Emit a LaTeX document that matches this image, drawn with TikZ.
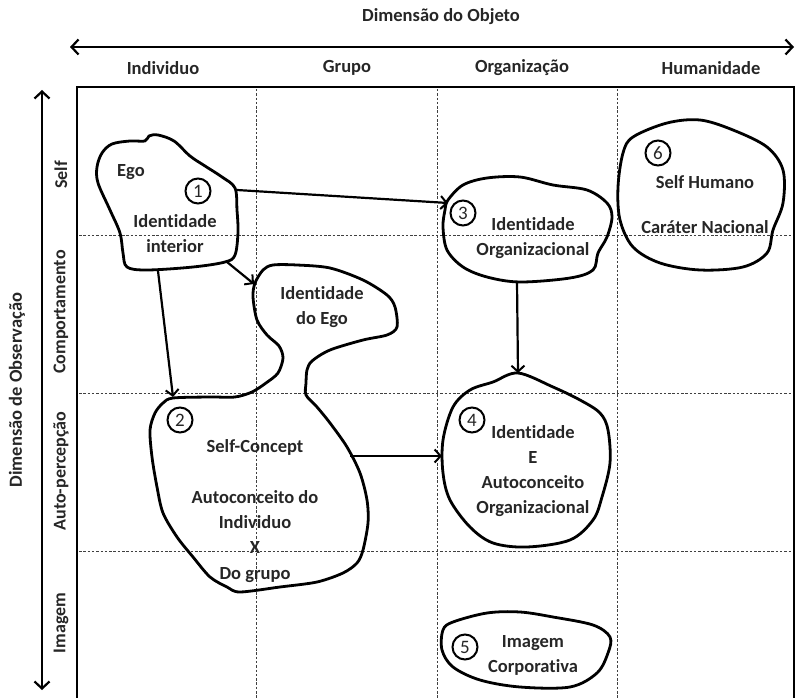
\documentclass[tikz,border=0pt]{standalone}
\usepackage{fontspec}
\setmainfont{Carlito}[Ligatures=NoCommon]
\usetikzlibrary{arrows.meta}
\begin{document}
\begin{tikzpicture}[x=1pt,y=-1pt,
  lbl/.style={font=\fontsize{18.5}{25}\selectfont\bfseries, text=black!85, align=center, inner sep=0pt},
  rowlbl/.style={font=\fontsize{18}{22}\selectfont\bfseries, text=black!85, inner sep=0pt, rotate=90},
  blob/.style={line width=2.8pt, line join=round},
  num/.style={draw, circle, line width=2pt, minimum size=25pt, inner sep=0pt, font=\fontsize{19}{20}\selectfont, text=black!85},
  gridline/.style={dash pattern=on 2.5pt off 1.8pt, line width=0.6pt, black!75},
  conn/.style={line width=2.2pt, -{Straight Barb[length=6pt,width=13pt,line width=2pt]}},
  axis/.style={line width=2.4pt, {Straight Barb[length=7pt,width=15pt,line width=2.2pt]}-{Straight Barb[length=7pt,width=15pt,line width=2.2pt]}}]
\useasboundingbox (0,0) rectangle (796,698);

% axes and titles
\node[lbl] (title) at (441,17) {Dimensão do Objeto};
\coordinate (hl) at (70,47);
\coordinate (hr) at (794,47);
\draw[axis] (hl) -- (hr);
\node[lbl] (c1) at (163,68) {Individuo};
\node[lbl] (c2) at (347,68) {Grupo};
\node[lbl] (c3) at (522,68) {Organização};
\node[lbl] (c4) at (711,68) {Humanidade};

\coordinate (vt) at (42,90);
\coordinate (vb) at (42,690);
\draw[axis] (vt) -- (vb);
\node[lbl, rotate=90] (vtitle) at (17,390) {Dimensão de Observação};
\node[rowlbl] (r1) at (61,175) {Self};
\node[rowlbl] (r2) at (61,312) {Comportamento};
\node[rowlbl] (r3) at (61,471) {Auto-percepção};
\node[rowlbl] (r4) at (61,623) {Imagem};

% grid
\foreach \x in {256,437,617} \draw[gridline] (\x,89) -- (\x,700);
\foreach \y in {235,393,551} \draw[gridline] (79,\y) -- (792,\y);
\draw[line width=2.6pt] (77,705) -- (77,87) -- (794,87) -- (794,705);

% blob 1
\draw[blob] plot[smooth cycle, tension=0.55] coordinates {
 (102,153) (112,144) (130,141) (145,141) (149,136) (158,135) (174,141) (190,156) (205,166)
 (222,177) (235,188) (237,210) (238,232) (235,255) (225,262) (193,267) (147,270)
 (127,267) (123,253) (120,233) (110,210) (98,183) (97,167)};
\node[lbl] (ego) at (131,172) {Ego};
\node[num] (n1) at (198,191) {1};
\node[lbl] (t1) at (175,234) {Identidade\\interior};

% blob 2 with Identidade do Ego
\draw[blob] plot[smooth cycle, tension=0.5] coordinates {
 (173,398) (163,403) (155,413) (150,430) (152,457) (157,487) (163,513) (177,537) (193,557)
 (210,577) (227,587) (240,592) (280,587) (317,582) (343,573) (357,563) (363,550) (368,523)
 (367,500) (360,473) (347,447) (330,423) (317,407) (306,395) (306,383) (307,370) (312,361)
 (330,350) (363,340) (387,335) (397,327) (395,307) (387,295) (363,280) (330,268) (297,265)
 (273,265) (263,270) (255,283) (253,297) (257,320) (267,335) (279,346) (283,358) (278,373)
 (266,383) (252,392) (235,397) (210,397)};
\node[lbl] (t2a) at (322,307) {Identidade\\do Ego};
\node[num] (n2) at (180,420) {2};
\node[lbl] (t2b) at (255,447) {Self-Concept};
\node[lbl] (t2c) at (255,510) {Autoconceito do\\Individuo};
\node[lbl] (t2x) at (255,547) {X};
\node[lbl] (t2d) at (255,575) {Do grupo};

% blob 3
\draw[blob] plot[smooth cycle, tension=0.55] coordinates {
 (448,200) (463,185) (487,178) (520,177) (553,185) (587,190) (607,203) (612,217)
 (607,237) (598,253) (593,270) (570,278) (520,282) (487,277) (463,267) (447,250)
 (443,227) (445,210)};
\node[num] (n3) at (463,213) {3};
\node[lbl] (t3) at (533,238) {Identidade\\Organizacional};

% blob 4
\draw[blob] plot[smooth cycle, tension=0.55] coordinates {
 (518,373) (553,387) (580,400) (600,413) (608,430) (610,463) (602,497) (593,520)
 (570,540) (527,547) (493,543) (470,527) (450,500) (443,473) (443,440) (453,407)
 (470,390) (493,382)};
\node[num] (n4) at (472,420) {4};
\node[lbl] (t4) at (533,471) {Identidade\\E\\Autoconceito\\Organizacional};

% blob 5
\draw[blob] plot[smooth cycle, tension=0.55] coordinates {
 (453,622) (487,613) (520,612) (553,617) (593,625) (610,637) (608,653) (597,673)
 (570,687) (520,687) (480,680) (453,667) (442,650) (443,630)};
\node[num] (n5) at (465,647) {5};
\node[lbl] (t5) at (533,655) {Imagem\\Corporativa};

% blob 6
\draw[blob] plot[smooth cycle, tension=0.55] coordinates {
 (633,137) (667,123) (700,120) (733,130) (767,147) (783,170) (783,203) (773,230)
 (767,253) (743,267) (700,270) (660,263) (633,247) (620,220) (618,187) (623,153)};
\node[num] (n6) at (658,153) {6};
\node[lbl] (t6a) at (705,182) {Self Humano};
\node[lbl] (t6b) at (705,227) {Caráter Nacional};

% connectors
\coordinate (a1s) at (237,190);
\coordinate (a1e) at (448,203);
\draw[conn] (a1s) -- (a1e);
\coordinate (a2s) at (227,262);
\coordinate (a2e) at (254,284);
\draw[conn] (a2s) -- (a2e);
\coordinate (a3s) at (158,271);
\coordinate (a3e) at (173,397);
\draw[conn] (a3s) -- (a3e);
\coordinate (a4s) at (350,456);
\coordinate (a4e) at (442,456);
\draw[conn] (a4s) -- (a4e);
\coordinate (a5s) at (517,281);
\coordinate (a5e) at (518,373);
\draw[conn] (a5s) -- (a5e);
\end{tikzpicture}
\end{document}
